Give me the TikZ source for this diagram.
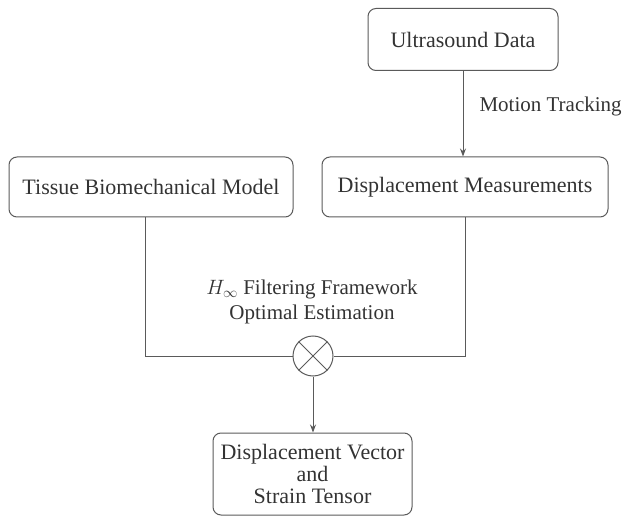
\documentclass[tikz,border=0pt]{standalone}
\usepackage{fontspec}
\setmainfont{Liberation Serif}
\usepackage{amsmath}
\usetikzlibrary{positioning,arrows.meta}
\definecolor{linegray}{HTML}{5A5A5A}
\definecolor{textgray}{HTML}{333333}

\begin{document}
\begin{tikzpicture}
[
    x=1pt, y=-1pt,
    box/.style={draw=linegray, line width=1pt, rounded corners=8pt, text=textgray,
        font=\fontsize{22}{22}\selectfont, align=center, inner sep=0pt},
    lbl/.style={text=textgray, font=\fontsize{21}{25}\selectfont, align=center, inner sep=0pt},
    wire/.style={draw=linegray, line width=1pt},
    arr/.style={wire, -{Stealth[length=8pt, width=6pt]}},
]
\useasboundingbox (0,0) rectangle (630,516);

\node [box, minimum width=190pt, minimum height=62pt] (us) at (463,39.5) {Ultrasound Data};
\node [box, minimum width=286pt, minimum height=60pt] (dm) at (465,187) {Displacement Measurements};
\node [box, minimum width=284pt, minimum height=60pt] (tb) at (151,187) {Tissue Biomechanical Model};
\node [box, minimum width=199pt, minimum height=82pt] (out) at (312.5,474)
    {Displacement Vector\\and\\Strain Tensor};
\node [circle, draw=linegray, line width=1pt, minimum size=40pt, inner sep=0pt] (mul) at (313,356) {};
\draw [wire] (mul.north east) -- (mul.south west)
             (mul.north west) -- (mul.south east);
\node [lbl] (est) at (312,302) {$H_\infty$ Filtering Framework\\Optimal Estimation};

\draw [arr] (us.south) -- (us.south |- dm.north)
    node [lbl, pos=0.42, right=16pt] (mt) {Motion Tracking};
\coordinate (tbout) at ([xshift=-6pt]tb.south);
\draw [wire] (tbout) |- (mul.west);
\draw [wire] (dm.south) |- (mul.east);
\draw [arr] (mul.south) -- (mul.south |- out.north);
\end{tikzpicture}
\end{document}
